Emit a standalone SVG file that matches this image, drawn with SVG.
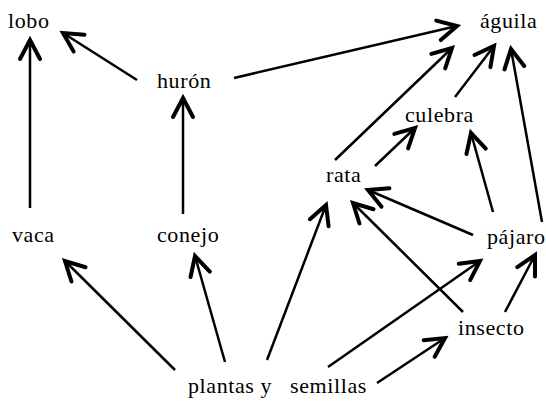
<svg xmlns="http://www.w3.org/2000/svg" width="546" height="401" viewBox="0 0 546 401">
<style>
.lbl{font-family:"Liberation Serif","Times New Roman",serif;font-size:22px;fill:#000;letter-spacing:0.6px}
.c line{stroke:#000;stroke-width:2.5;fill:none;marker-end:url(#ah)}
</style>
<defs>
<marker id="ah" markerUnits="userSpaceOnUse" viewBox="-24 -13 28 26" markerWidth="28" markerHeight="26" refX="0" refY="0" orient="auto" overflow="visible">
<path d="M-19,-10 L0,0 L-19,10" fill="none" stroke="#000" stroke-width="4" stroke-linecap="round" stroke-linejoin="miter"/>
</marker>
</defs>
<rect width="546" height="401" fill="#fff"/>
<g id="n-lobo"><text class="lbl" x="8" y="28">lobo</text></g>
<g id="n-huron"><text class="lbl" x="157" y="88">hurón</text></g>
<g id="n-aguila"><text class="lbl" x="480" y="28">águila</text></g>
<g id="n-culebra"><text class="lbl" x="405" y="122">culebra</text></g>
<g id="n-rata"><text class="lbl" x="326" y="182">rata</text></g>
<g id="n-vaca"><text class="lbl" x="12" y="242">vaca</text></g>
<g id="n-conejo"><text class="lbl" x="157" y="242">conejo</text></g>
<g id="n-pajaro"><text class="lbl" x="487" y="244">pájaro</text></g>
<g id="n-insecto"><text class="lbl" x="458" y="335">insecto</text></g>
<g id="n-plantas"><text class="lbl" x="188" y="393">plantas y<tspan x="290">semillas</tspan></text></g>
<g id="connectors" class="c">
<line x1="30" y1="208" x2="30" y2="40"/>
<line x1="137" y1="80" x2="63" y2="33"/>
<line x1="234" y1="78" x2="457" y2="26"/>
<line x1="183" y1="214" x2="183" y2="98"/>
<line x1="335" y1="160" x2="452" y2="48"/>
<line x1="375" y1="166" x2="415" y2="128"/>
<line x1="455" y1="97" x2="494" y2="46"/>
<line x1="493" y1="212" x2="471" y2="133"/>
<line x1="542" y1="222" x2="511" y2="49"/>
<line x1="473" y1="235" x2="368" y2="190"/>
<line x1="463" y1="312" x2="353" y2="203"/>
<line x1="267" y1="360" x2="326" y2="205"/>
<line x1="225" y1="362" x2="195" y2="256"/>
<line x1="175" y1="370" x2="65" y2="261"/>
<line x1="328" y1="367" x2="480" y2="261"/>
<line x1="377" y1="383" x2="445" y2="338"/>
<line x1="505" y1="312" x2="535" y2="255"/>
</g>
</svg>
